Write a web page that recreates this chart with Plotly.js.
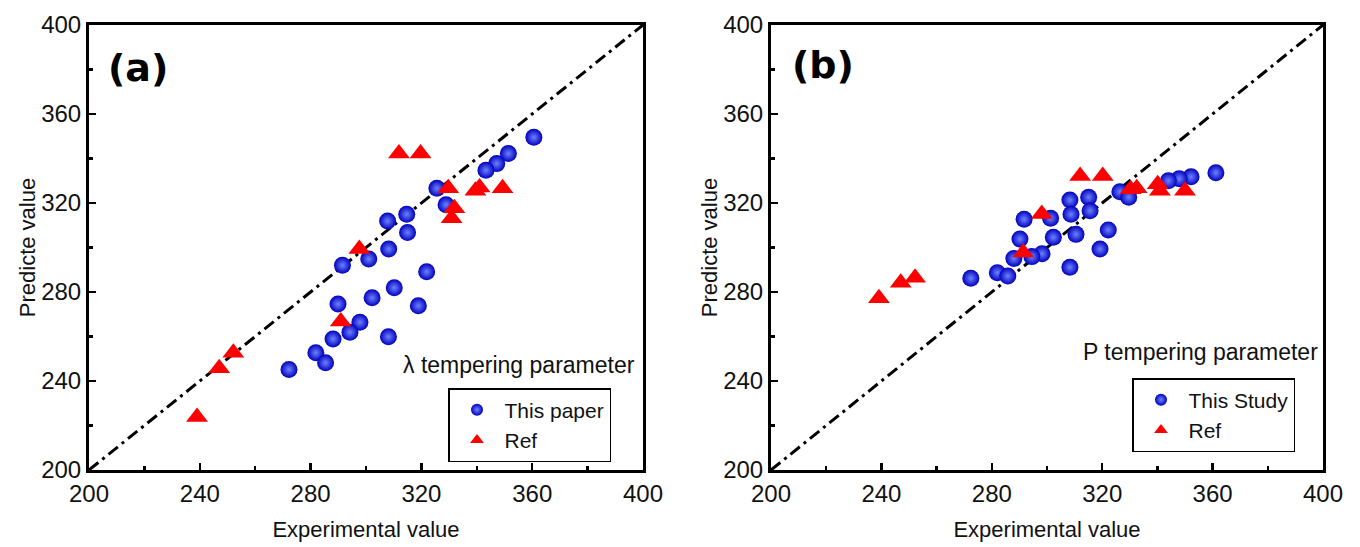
<!DOCTYPE html>
<html>
<head>
<meta charset="utf-8">
<script src="https://cdn.plot.ly/plotly-3.0.1.min.js"></script>
<style>html,body{margin:0;padding:0;background:#fff;}#chart{width:1360px;height:547px;}</style>
</head>
<body>
<div id="chart"></div>
<script>
// Panel (a): λ tempering parameter
const aBlueX = [360.6, 351.4, 347.2, 343.3, 325.6, 328.9, 314.7, 307.8, 315.0, 308.2, 301.0, 291.5, 321.9, 310.2, 302.2, 289.9, 318.9, 297.8, 294.2, 288.1, 308.1, 281.9, 285.4, 272.2];
const aBlueY = [349.5, 342.2, 337.7, 334.7, 326.6, 319.2, 314.9, 311.9, 306.7, 299.3, 294.8, 292.0, 289.1, 281.9, 277.4, 274.6, 273.8, 266.4, 261.9, 258.9, 259.9, 252.7, 248.2, 245.2];
const aRedX = [311.9, 319.7, 329.7, 339.5, 341.0, 349.3, 331.9, 330.9, 297.6, 290.9, 252.1, 247.0, 239.0];
const aRedY = [342.3, 342.3, 326.6, 325.5, 327.0, 326.6, 317.6, 313.1, 299.3, 266.7, 252.7, 245.7, 223.8];
// Panel (b): P tempering parameter
const bBlueX = [361.2, 352.2, 347.9, 344.0, 326.4, 329.6, 315.1, 308.3, 315.6, 308.7, 301.3, 291.7, 322.2, 310.5, 302.3, 290.2, 319.2, 298.2, 294.5, 288.0, 308.3, 282.0, 285.8, 272.4];
const bBlueY = [333.6, 331.8, 330.9, 330.0, 325.1, 322.6, 322.6, 321.3, 316.5, 314.9, 313.1, 312.7, 307.9, 305.9, 304.6, 303.8, 299.3, 297.2, 295.9, 295.1, 291.1, 288.7, 287.2, 286.2];
const bRedX = [312.0, 320.2, 330.3, 332.5, 340.1, 340.9, 350.0, 298.1, 291.4, 252.2, 247.0, 239.1];
const bRedY = [332.1, 332.1, 326.2, 326.6, 328.4, 325.5, 325.5, 315.1, 297.7, 286.4, 284.2, 277.2];
// Reference y = x line
const diagLine = [200, 400];
const tickVals = [200, 240, 280, 320, 360, 400];

const FONT = 'Liberation Sans, Arial, sans-serif';
const RED = 'rgb(255,0,0)';

function blueTrace(x, y, name, xa, ya, leg) {
  return {x: x, y: y, type: 'scatter', mode: 'markers', name: name, xaxis: xa, yaxis: ya, legend: leg,
    marker: {symbol: 'circle', size: 17, color: 'rgb(0,0,190)', line: {width: 0},
             gradient: {type: 'radial', color: 'rgb(110,130,255)'}}};
}
function redTrace(x, y, name, xa, ya, leg) {
  return {x: x, y: y, type: 'scatter', mode: 'markers', name: name, xaxis: xa, yaxis: ya, legend: leg,
    marker: {symbol: 'triangle-up', size: 19, color: RED, line: {width: 0}}};
}
function diag(xa, ya) {
  return {x: diagLine, y: diagLine, type: 'scatter', mode: 'lines', xaxis: xa, yaxis: ya, showlegend: false,
    hoverinfo: 'skip', line: {color: 'black', width: 3, dash: '12px,5px,3px,5px'}};
}

const data = [
  diag('x', 'y'),
  blueTrace(aBlueX, aBlueY, 'This paper', 'x', 'y', 'legend'),
  redTrace(aRedX, aRedY, 'Ref', 'x', 'y', 'legend'),
  diag('x2', 'y2'),
  blueTrace(bBlueX, bBlueY, 'This Study', 'x2', 'y2', 'legend2'),
  redTrace(bRedX, bRedY, 'Ref', 'x2', 'y2', 'legend2')
];

function xax(domain, anchor) {
  return {domain: domain, anchor: anchor, range: [200, 400], tickvals: tickVals, showgrid: false, zeroline: false,
    showline: true, linecolor: 'black', linewidth: 3, mirror: true, ticks: 'inside', ticklen: 7, tickwidth: 2.5,
    tickcolor: 'black', minor: {dtick: 20, ticks: 'inside', ticklen: 4, tickwidth: 2.5, tickcolor: 'black'},
    tickfont: {family: FONT, size: 24, color: '#111'},
    title: {text: 'Experimental value', font: {family: FONT, size: 22, color: '#111'}, standoff: 16}};
}
function yax(domain, anchor) {
  return {domain: domain, anchor: anchor, range: [200, 400], tickvals: tickVals, showgrid: false, zeroline: false,
    showline: true, linecolor: 'black', linewidth: 3, mirror: true, ticks: 'inside', ticklen: 7, tickwidth: 2.5,
    tickcolor: 'black', minor: {dtick: 20, ticks: 'inside', ticklen: 4, tickwidth: 2.5, tickcolor: 'black'},
    tickfont: {family: FONT, size: 24, color: '#111'},
    title: {text: 'Predicte value', font: {family: FONT, size: 22, color: '#111'}, standoff: 0}};
}

const legendBase = {bgcolor: 'white', bordercolor: 'black', borderwidth: 1.5, xanchor: 'left', yanchor: 'top',
  font: {family: FONT, size: 21, color: '#111'}, tracegroupgap: 0, itemsizing: 'constant', itemwidth: 45};

function ann(text, xpx, ypx, size, xanchor, bold) {
  return {text: text, xref: 'paper', yref: 'paper', x: xpx / 1360, y: (470 - ypx) / 445,
    xanchor: xanchor, yanchor: 'middle', showarrow: false,
    font: {family: bold ? 'DejaVu Sans, Liberation Sans, sans-serif' : FONT, size: size, color: bold ? 'black' : '#111',
           weight: bold ? 900 : 400}};
}

const layout = {
  width: 1360, height: 547,
  margin: {l: 0, r: 0, t: 25, b: 77},
  paper_bgcolor: 'white', plot_bgcolor: 'white',
  xaxis: xax([89/1360, 643/1360], 'y'),
  yaxis: yax([0, 1], 'x'),
  xaxis2: xax([771/1360, 1323/1360], 'y2'),
  yaxis2: yax([0, 1], 'x2'),
  legend: Object.assign({}, legendBase, {x: 448/1360, y: (470-388)/445}),
  legend2: Object.assign({}, legendBase, {x: 1132/1360, y: (470-378)/445}),
  annotations: [
    ann('(a)', 138, 68, 38, 'center', true),
    ann('(b)', 823, 65, 38, 'center', true),
    ann('λ tempering parameter', 637, 365, 23, 'right', false),
    ann('P tempering parameter', 1320, 352, 23, 'right', false)
  ]
};

Plotly.newPlot('chart', data, layout, {displayModeBar: false, staticPlot: true});
</script>
</body>
</html>
